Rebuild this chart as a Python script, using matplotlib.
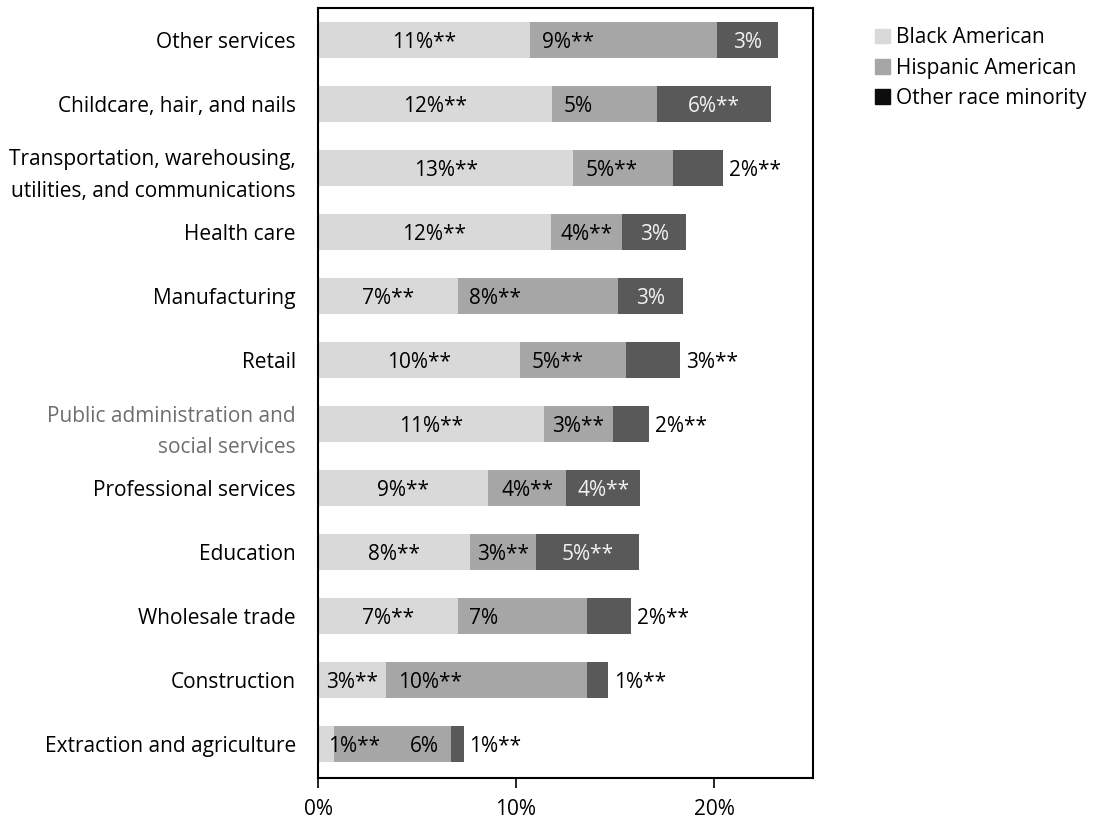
import matplotlib
matplotlib.use('Agg')
import matplotlib.pyplot as plt
from matplotlib.patches import Patch
from matplotlib.ticker import FuncFormatter

plt.rcParams['font.family'] = ['Open Sans', 'DejaVu Sans']

categories = ['Other services', 'Childcare, hair, and nails',
              'Transportation, warehousing,\nutilities, and communications',
              'Health care', 'Manufacturing', 'Retail',
              'Public administration and\nsocial services',
              'Professional services', 'Education', 'Wholesale trade',
              'Construction', 'Extraction and agriculture']
black = [10.7, 11.8, 12.9, 11.75, 7.05, 10.2, 11.4, 8.6, 7.7, 7.05, 3.45, 0.8]
hispanic = [9.45, 5.3, 5.05, 3.6, 8.1, 5.35, 3.5, 3.95, 3.3, 6.55, 10.15, 5.9]
other = [3.1, 5.8, 2.5, 3.25, 3.3, 2.75, 1.8, 3.7, 5.2, 2.2, 1.05, 0.65]
black_lbl = ['11%**', '12%**', '13%**', '12%**', '7%**', '10%**', '11%**', '9%**', '8%**', '7%**', '3%**', '1%**']
hisp_lbl = ['9%**', '5%', '5%**', '4%**', '8%**', '5%**', '3%**', '4%**', '3%**', '7%', '10%**', '6%']
other_lbl = ['3%', '6%**', '2%**', '3%', '3%', '3%**', '2%**', '4%**', '5%**', '2%**', '1%**', '1%**']
series = ['Black American', 'Hispanic American', 'Other race minority']

c_black = '#D9D9D9'
c_hisp = '#A6A6A6'
c_other = '#595959'

fig = plt.figure(figsize=(10.94, 8.23), dpi=100)
ax = fig.add_axes([0.2907, 0.0547, 0.4524, 0.9356])

y = list(range(len(categories)))
left2 = black
left3 = [b + h for b, h in zip(black, hispanic)]
h = 0.56
ax.barh(y, black, height=h, color=c_black)
ax.barh(y, hispanic, left=left2, height=h, color=c_hisp)
ax.barh(y, other, left=left3, height=h, color=c_other)

fs = 15
va = 'center_baseline'
for i in y:
    b, hs, o = black[i], hispanic[i], other[i]
    # black american labels
    if b < 2:
        ax.text(0.5, i, black_lbl[i], ha='left', va=va, fontsize=fs, color='black')
    else:
        ax.text(b / 2, i, black_lbl[i], ha='center', va=va, fontsize=fs, color='black')
    # hispanic labels
    if b < 2:
        ax.text(b + hs - 0.6, i, hisp_lbl[i], ha='right', va=va, fontsize=fs, color='black')
    elif hs >= 5:
        ax.text(b + 0.6, i, hisp_lbl[i], ha='left', va=va, fontsize=fs, color='black')
    else:
        ax.text(b + hs / 2, i, hisp_lbl[i], ha='center', va=va, fontsize=fs, color='black')
    # other race labels
    end = b + hs + o
    if o >= 3:
        ax.text(b + hs + o / 2, i, other_lbl[i], ha='center', va=va, fontsize=fs, color='#F2F2F2')
    else:
        ax.text(end + 0.3, i, other_lbl[i], ha='left', va=va, fontsize=fs, color='black')

ax.set_xlim(0, 25)
ax.set_ylim(len(categories) - 0.47, -0.5)
ax.set_xticks([0, 10, 20])
ax.xaxis.set_major_formatter(FuncFormatter(lambda v, p: '%d%%' % v))
ax.set_yticks(y)
ax.set_yticklabels(categories, fontsize=fs, linespacing=1.65)
for lbl in ax.get_yticklabels():
    if lbl.get_text().startswith('Public'):
        lbl.set_color('#6E6E6E')
ax.tick_params(axis='y', length=0, pad=16)
ax.tick_params(axis='x', length=7, width=1.2, labelsize=fs, pad=8, direction='out')
for s in ax.spines.values():
    s.set_linewidth(1.5)
    s.set_color('black')

handles = [Patch(color=c_black), Patch(color=c_hisp), Patch(color='#0D0D0D')]
fig.legend(handles, series, loc='upper left', bbox_to_anchor=(0.8, 0.967),
           frameon=False, fontsize=fs, handlelength=0.7, handleheight=0.7,
           handletextpad=0.3, labelspacing=0.45, borderpad=0, borderaxespad=0)

plt.savefig('out.png', dpi=100)
